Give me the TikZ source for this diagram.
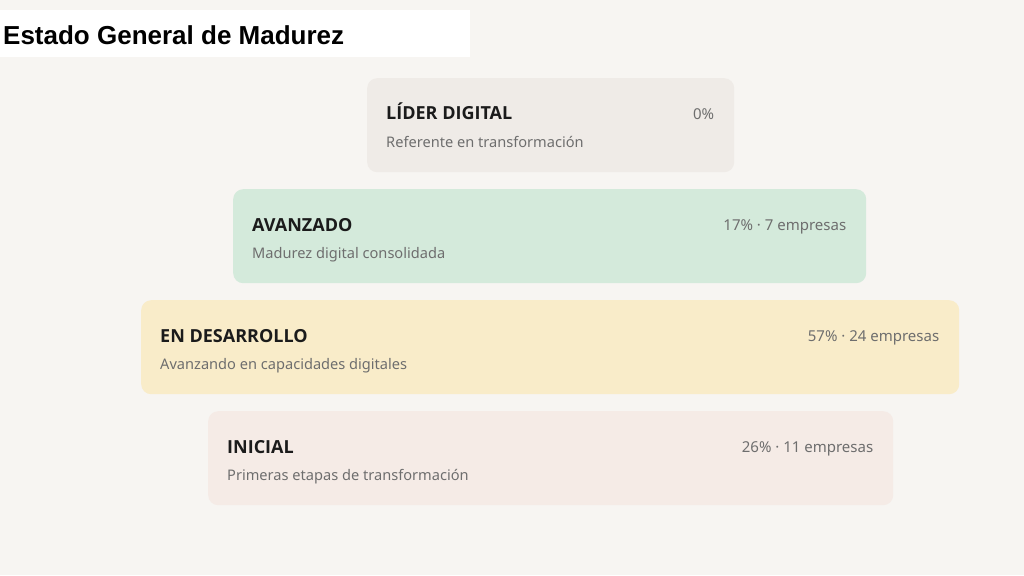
\documentclass[tikz,border=0pt]{standalone}
\usepackage{fontspec}
\setmainfont{Noto Sans}
\newfontfamily\headfont{Liberation Sans}
\newfontfamily\namefont{Open Sans}
\usetikzlibrary{positioning}

\definecolor{page}{HTML}{F7F5F2}
\definecolor{ink}{HTML}{1B1B1B}
\definecolor{muted}{HTML}{6E6E6E}
\definecolor{lider}{HTML}{EFEBE7}
\definecolor{avanzado}{HTML}{D4EADB}
\definecolor{desarrollo}{HTML}{F9ECC9}
\definecolor{inicial}{HTML}{F5EBE6}

\tikzset{
    level box/.style = {
      rounded corners=10pt, inner sep=0, anchor=north west, minimum height=94pt,
    },
    level name/.style = {
      anchor=base west, inner sep=0, text=ink,
      font=\namefont\bfseries\fontsize{18}{22}\selectfont,
    },
    level note/.style = {
      anchor=base west, inner sep=0, text=muted,
      font=\fontsize{14.6}{18}\selectfont,
    },
    level share/.style = {
      anchor=base east, inner sep=0, text=muted,
      font=\fontsize{15}{18}\selectfont,
    },
}

\begin{document}
\begin{tikzpicture}[x=1pt, y=-1pt]
    %% Page background and heading
    \fill [page] (0,0) rectangle (1024,575);
    \useasboundingbox (0,0) rectangle (1024,575);
    \node [fill=white, inner sep=0, anchor=north west, minimum width=470pt, minimum height=47pt] (head box) at (0,10) {};
    \node [anchor=base west, inner sep=0, text=black, font=\headfont\bfseries\fontsize{26}{30}\selectfont] (head) at (3,45) {Estado General de Madurez};

    %% One box per maturity level
    \foreach \name/\x/\y/\w/\label/\note/\share in {%
      lider/367/78/367/{LÍDER DIGITAL}/{Referente en transformación}/{0\%},
      avanzado/233/189/633/{AVANZADO}/{Madurez digital consolidada}/{17\% · 7 empresas},
      desarrollo/141/300/818/{EN DESARROLLO}/{Avanzando en capacidades digitales}/{57\% · 24 empresas},
      inicial/208/411/685/{INICIAL}/{Primeras etapas de transformación}/{26\% · 11 empresas}}{%
      \node [level box, fill=\name, minimum width=\w pt] (\name) at (\x,\y) {};
      \node [level name] (\name-name) at ([shift={(19pt,-42pt)}] \name.north west) {\label};
      \node [level note] (\name-note) at ([shift={(19pt,-69pt)}] \name.north west) {\note};
      \node [level share] (\name-share) at ([shift={(-20pt,-41pt)}] \name.north east) {\share};
    }
\end{tikzpicture}
\end{document}
